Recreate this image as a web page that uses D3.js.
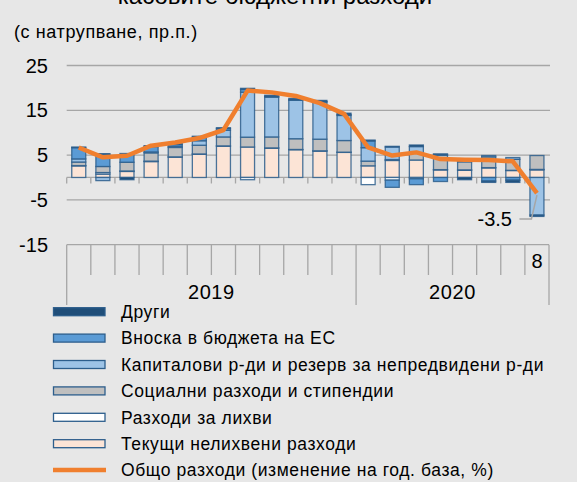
<!DOCTYPE html>
<html>
<head>
<meta charset="utf-8">
<script src="https://cdn.jsdelivr.net/npm/d3@7"></script>
<style>
  html, body { margin: 0; padding: 0; background: #e7e7e7; }
  svg { display: block; }
  text { font-family: "Liberation Sans", Arial, sans-serif; fill: #000; }
</style>
</head>
<body>
<svg id="chart" width="577" height="482"></svg>
<script>
// ---------------- DATA ----------------
const monthLabels = ["1","2","3","4","5","6","7","8","9","10","11","12","1","2","3","4","5","6","7","8"];
const years = ["2019", "2020"];
const yearMonths = [12, 8];
const yTicks = [25, 15, 5, -5, -15];

const seriesNames = [
  "Текущи нелихвени разходи",
  "Разходи за лихви",
  "Социални разходи и стипендии",
  "Капиталови р-ди и резерв за непредвидени р-ди",
  "Вноска в бюджета на ЕС",
  "Други"
];
const currentNonInterest = [2.6, 0.75, 1.35, 3.55, 4.55, 5.2, 7.0, 6.8, 6.55, 6.2, 5.9, 5.6, 2.6, 3.8, 3.9, 1.7, 1.6, 2.15, 1.55, 1.7];
const interest           = [0.05, 0.35, 0.1, 0.1, 0.05, 0.05, 0.05, -0.5, 0.05, 0.05, 0.05, 0.05, -1.6, -0.6, -0.3, 0.05, 0.1, 0.05, 0.05, 0.1];
const social             = [0.8, 1.35, 1.95, 1.85, 2.1, 1.95, 2.0, 2.2, 2.45, 2.4, 2.6, 2.6, 1.05, 0.2, 1.5, 3.2, 1.8, 2.4, 2.45, 3.1];
const capital            = [0.7, -0.7, 0.0, 0.2, 0.3, 1.0, 1.5, 10.05, 8.9, 8.6, 8.3, 5.6, 3.0, 2.8, 1.5, 0.2, 0.3, 0.3, 0.4, -8.4];
const euContribution     = [2.5, 2.75, 1.95, 1.2, 0.4, 0.8, 0.4, 0.6, 0.1, 0.1, 0.1, 0.2, 1.5, -1.6, -1.3, -0.9, 0.0, -0.8, -0.6, 0.0];
const other              = [0.15, 0.1, -0.5, 0.2, 0.15, 0.2, 0.15, 0.25, 0.3, 0.3, 0.25, 0.3, 0.2, 0.15, 0.35, 0.1, -0.5, -0.3, -0.5, -0.3];
const totalChange        = [6.7, 4.5, 4.85, 7.1, 7.8, 8.8, 10.6, 19.4, 19.0, 18.2, 16.6, 14.2, 6.7, 4.9, 5.6, 4.1, 3.95, 3.9, 3.6, -3.5];
const lineName = "Общо разходи (изменение на год. база, %)";
const lastLabel = "-3.5";

// ---------------- STYLE ----------------
const fills = ["#fce4d6", "#ffffff", "#bfbfbf", "#9dc3e6", "#5b9bd5", "#1f4e79"];
const segStroke = "#2d5e8c";
const gridColor = "#a6a6a6";
const lineColor = "#f07f2e";

const svg = d3.select("#chart");
const W = 577, H = 482;
svg.append("rect").attr("width", W).attr("height", H).attr("fill", "#e7e7e7");

const left = 66.7, right = 549;
const x = d3.scaleBand().domain(d3.range(monthLabels.length)).range([left, right])
  .paddingInner(0.42).paddingOuter(0.21);
const step = x.step();
const y = d3.scaleLinear().domain([-15, 25]).range([244.65, 65.5]);

// title (cut off at top) and subtitle
svg.append("text").attr("x", 275).attr("y", 4).attr("text-anchor", "middle")
  .style("font-size", "24px").text("касовите бюджетни разходи");
svg.append("text").attr("x", 14).attr("y", 37.5)
  .style("font-size", "18px").style("letter-spacing", "0.6px").text("(с натрупване, пр.п.)");

// gridlines
svg.append("g").selectAll("line").data(yTicks.filter(d => d > -15)).join("line")
  .attr("x1", left).attr("x2", right + 1)
  .attr("y1", d => y(d)).attr("y2", d => y(d))
  .attr("stroke", gridColor).attr("stroke-width", 1.3);

// y tick labels
svg.append("g").selectAll("text").data(yTicks).join("text")
  .attr("x", 48).attr("y", d => y(d)).attr("dy", "0.36em")
  .attr("text-anchor", "end").style("font-size", "20px")
  .text(d => d);

// zero line with ticks
svg.append("line").attr("x1", left).attr("x2", right).attr("y1", y(0)).attr("y2", y(0))
  .attr("stroke", gridColor).attr("stroke-width", 1.3);
svg.append("g").selectAll("line").data(d3.range(monthLabels.length + 1)).join("line")
  .attr("x1", i => left + i * step).attr("x2", i => left + i * step)
  .attr("y1", y(0)).attr("y2", y(0) + 6)
  .attr("stroke", gridColor).attr("stroke-width", 1.3);

// category axis box at the bottom
const axY = y(-15);
svg.append("line").attr("x1", left).attr("x2", right).attr("y1", axY).attr("y2", axY)
  .attr("stroke", gridColor).attr("stroke-width", 1.3);
const yearBounds = [0];
yearMonths.forEach((m, i) => yearBounds.push(yearBounds[i] + m));
svg.append("g").selectAll("line").data(d3.range(monthLabels.length + 1)).join("line")
  .attr("x1", i => left + i * step).attr("x2", i => left + i * step)
  .attr("y1", axY).attr("y2", i => yearBounds.includes(i) ? 305 : 275)
  .attr("stroke", gridColor).attr("stroke-width", 1.3);
svg.append("text").attr("x", x(monthLabels.length - 1) + x.bandwidth() / 2).attr("y", 268)
  .attr("text-anchor", "middle").style("font-size", "20px")
  .text(monthLabels[monthLabels.length - 1]);
years.forEach((yr, i) => {
  const cx = left + (yearBounds[i] + yearBounds[i + 1]) / 2 * step;
  svg.append("text").attr("x", cx).attr("y", 299).attr("text-anchor", "middle")
    .style("font-size", "20px").style("letter-spacing", "0.6px").text(yr);
});

// stacked bars
const table = monthLabels.map((m, i) => ({
  i,
  s0: currentNonInterest[i], s1: interest[i], s2: social[i],
  s3: capital[i], s4: euContribution[i], s5: other[i]
}));
const keys = ["s0", "s1", "s2", "s3", "s4", "s5"];
const stacked = d3.stack().keys(keys).offset(d3.stackOffsetDiverging)(table);
svg.append("g").selectAll("g").data(stacked).join("g")
  .attr("fill", (d, k) => fills[k])
  .selectAll("rect").data(d => d).join("rect")
  .attr("x", d => x(d.data.i))
  .attr("width", x.bandwidth())
  .attr("y", d => y(Math.max(d[0], d[1])))
  .attr("height", d => Math.abs(y(d[0]) - y(d[1])))
  .attr("stroke", segStroke).attr("stroke-width", 1.3).attr("stroke-opacity", 0.85);

// total line
const line = d3.line().x((d, i) => x(i) + x.bandwidth() / 2).y(d => y(d));
svg.append("path").datum(totalChange).attr("d", line)
  .attr("fill", "none").attr("stroke", lineColor).attr("stroke-width", 4.5)
  .attr("stroke-linejoin", "round");

// last value label with leader
const lastI = totalChange.length - 1;
const px = x(lastI) + x.bandwidth() / 2, py = y(totalChange[lastI]);
svg.append("path")
  .attr("d", `M${px},${py + 2} L${px - 5.5},${219} L${px - 17.5},${219}`)
  .attr("fill", "none").attr("stroke", "#a6a6a6").attr("stroke-width", 1.5);
svg.append("text").attr("x", px - 25).attr("y", 226).attr("text-anchor", "end")
  .style("font-size", "20px").text(lastLabel);

// legend
const legendOrder = [5, 4, 3, 2, 1, 0];
const lg = svg.append("g");
legendOrder.forEach((k, r) => {
  const cy = 311.7 + r * 26.4;
  lg.append("rect").attr("x", 53.5).attr("y", cy - 4).attr("width", 51.5).attr("height", 8)
    .attr("fill", fills[k]).attr("stroke", "#2d5e8c").attr("stroke-width", 1.3);
  lg.append("text").attr("x", 121).attr("y", cy).attr("dy", "0.36em")
    .style("font-size", "17.5px").style("letter-spacing", "0.6px").text(seriesNames[k]);
});
const ly = 311.7 + 6 * 26.4;
lg.append("line").attr("x1", 53).attr("x2", 106).attr("y1", ly).attr("y2", ly)
  .attr("stroke", lineColor).attr("stroke-width", 4.5);
lg.append("text").attr("x", 121).attr("y", ly).attr("dy", "0.36em")
  .style("font-size", "17.5px").style("letter-spacing", "0.6px").text(lineName);
</script>
</body>
</html>
